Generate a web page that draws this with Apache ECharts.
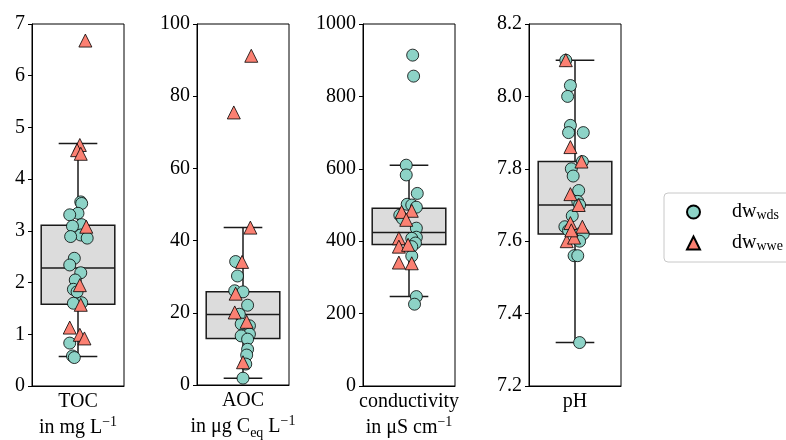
<!DOCTYPE html>
<html>
<head>
<meta charset="UTF-8">
<title>Water quality boxplots</title>
<script src="https://cdn.jsdelivr.net/npm/echarts@6/dist/echarts.min.js"></script>
<style>
  html, body { margin: 0; padding: 0; background: #fff; }
  #chart { width: 786px; height: 440px; }
</style>
</head>
<body>
<div id="chart"></div>
<script>
// ---- data ----
// box statistics: [lower whisker, Q1, median, Q3, upper whisker]
var tocBox = [0.57, 1.58, 2.28, 3.11, 4.69];
var aocBox = [1.9, 12.9, 19.5, 25.8, 43.6];
var condBox = [247, 391, 424, 491, 610];
var phBox = [7.32, 7.62, 7.70, 7.82, 8.10];

// dw_wds samples (values) and strip jitter (fraction of category band)
var tocWds = [3.56, 3.53, 3.34, 3.31, 3.12, 3.09, 2.92, 2.89, 2.86, 2.47, 2.34, 2.19, 2.05, 1.87, 1.82, 1.61, 1.60, 0.83, 0.58, 0.55];
var tocWdsJit = [0.03, 0.04, 0.0, -0.09, 0.04, -0.06, 0.03, -0.08, 0.10, -0.04, -0.09, 0.03, -0.03, -0.05, -0.01, 0.04, -0.05, -0.09, -0.06, -0.04];
var tocWwe = [6.68, 4.66, 4.56, 4.49, 3.08, 1.95, 1.57, 1.13, 0.99, 0.92];
var tocWweJit = [0.08, 0.02, -0.01, 0.03, 0.09, 0.02, 0.03, -0.09, 0.02, 0.07];

var aocWds = [34.2, 30.2, 26.1, 25.8, 22.1, 19.6, 16.9, 16.4, 14.1, 13.6, 12.7, 9.9, 8.3, 5.8, 1.9];
var aocWdsJit = [-0.08, -0.06, -0.09, 0.0, 0.05, -0.04, -0.02, 0.07, 0.07, -0.02, 0.05, 0.05, 0.04, 0.03, 0.0];
var aocWwe = [91.2, 75.5, 43.6, 34.1, 25.3, 20.1, 17.5, 6.3];
var aocWweJit = [0.09, -0.10, 0.08, -0.01, -0.08, -0.09, 0.04, 0.0];

var condWds = [914, 856, 610, 583, 532, 502, 500, 494, 472, 462, 436, 411, 408, 395, 385, 359, 247, 226];
var condWdsJit = [0.04, 0.05, -0.03, -0.03, 0.09, -0.02, 0.03, 0.08, -0.10, -0.07, 0.08, 0.08, 0.03, 0.07, 0.03, 0.03, 0.08, 0.06];
var condWwe = [481, 484, 459, 408, 385, 390, 341, 339];
var condWweJit = [-0.08, 0.03, -0.03, -0.11, -0.11, -0.01, -0.11, 0.03];

var phWds = [8.10, 8.03, 8.00, 7.92, 7.90, 7.90, 7.82, 7.80, 7.78, 7.74, 7.71, 7.70, 7.67, 7.64, 7.63, 7.62, 7.62, 7.60, 7.56, 7.56, 7.32];
var phWdsJit = [-0.10, -0.05, -0.08, -0.05, -0.07, 0.09, 0.08, -0.04, -0.02, 0.04, 0.03, 0.05, -0.03, -0.11, -0.07, 0.05, 0.09, 0.05, -0.01, 0.03, 0.05];
var phWwe = [8.10, 7.86, 7.82, 7.73, 7.70, 7.65, 7.64, 7.60, 7.61, 7.63];
var phWweJit = [-0.10, -0.05, 0.07, -0.05, 0.04, -0.05, 0.08, -0.09, -0.01, -0.04];

// axis ranges and labels
var labels = [
  '{a|TOC}\n{a|in mg L}{sup|\u22121}',
  '{a|AOC}\n{a|in \u03bcg C}{sub|eq}{a| L}{sup|\u22121}',
  '{a|conductivity}\n{a|in \u03bcS cm}{sup|\u22121}',
  '{a|pH}'
];
var yMin = [0, 0, 0, 7.2];
var yMax = [7, 100, 1000, 8.2];
var yStep = [1, 20, 200, 0.2];
var yDecimals = [0, 0, 0, 1];

var boxes = [tocBox, aocBox, condBox, phBox];
var wds = [[tocWds, tocWdsJit], [aocWds, aocWdsJit], [condWds, condWdsJit], [phWds, phWdsJit]];
var wwe = [[tocWwe, tocWweJit], [aocWwe, aocWweJit], [condWwe, condWweJit], [phWwe, phWweJit]];

// ---- chart ----
var FONT = 'Liberation Serif';
var lefts = [32, 197, 363, 529];
var LINE = '#1a1a1a';

function pairs(d) {
  return d[0].map(function (v, k) { return [d[1][k], v]; });
}

function renderBox(params, api) {
  var p = [1, 2, 3, 4, 5].map(function (d) { return api.coord([api.value(0), api.value(d)]); });
  var x = p[0][0];
  var bw = api.size([0.8, 0])[0];
  var cw = api.size([0.42, 0])[0];
  var st = { stroke: LINE, lineWidth: 1.5, fill: null };
  return {
    type: 'group',
    children: [
      { type: 'line', shape: { x1: x, y1: p[0][1], x2: x, y2: p[1][1] }, style: st },
      { type: 'line', shape: { x1: x, y1: p[3][1], x2: x, y2: p[4][1] }, style: st },
      { type: 'line', shape: { x1: x - cw / 2, y1: p[0][1], x2: x + cw / 2, y2: p[0][1] }, style: st },
      { type: 'line', shape: { x1: x - cw / 2, y1: p[4][1], x2: x + cw / 2, y2: p[4][1] }, style: st },
      { type: 'rect', shape: { x: x - bw / 2, y: p[3][1], width: bw, height: p[1][1] - p[3][1] },
        style: { fill: '#dcdcdc', stroke: LINE, lineWidth: 1.5 } },
      { type: 'line', shape: { x1: x - bw / 2, y1: p[2][1], x2: x + bw / 2, y2: p[2][1] }, style: st }
    ]
  };
}

var richX = {
  a: { fontFamily: FONT, fontSize: 20, color: '#000', lineHeight: 26 },
  sup: { fontFamily: FONT, fontSize: 14, color: '#000', lineHeight: 8, verticalAlign: 'top' },
  sub: { fontFamily: FONT, fontSize: 14, color: '#000', lineHeight: 14, verticalAlign: 'bottom' }
};

var grids = [], xAxes = [], yAxes = [], series = [];
for (var i = 0; i < 4; i++) {
  grids.push({ left: lefts[i], top: 24, width: 92, height: 362, show: true,
    borderColor: '#000', borderWidth: 1, backgroundColor: 'transparent' });
  xAxes.push({
    gridIndex: i, type: 'category', data: [labels[i]],
    axisLine: { lineStyle: { color: '#000', width: 1 } },
    axisTick: { alignWithLabel: true, length: 5, lineStyle: { color: '#000' } },
    axisLabel: { margin: 3, interval: 0, formatter: function (v) { return v; }, rich: richX }
  });
  xAxes.push({ gridIndex: i, type: 'value', min: -0.5, max: 0.5, show: false });
  (function (dec) {
    yAxes.push({
      gridIndex: i, type: 'value', min: yMin[i], max: yMax[i], interval: yStep[i],
      splitLine: { show: false },
      axisLine: { show: true, onZero: false, lineStyle: { color: '#000', width: 1 } },
      axisTick: { show: true, length: 4, lineStyle: { color: '#000' } },
      axisLabel: { margin: 7, color: '#000', fontFamily: FONT, fontSize: 20,
        formatter: function (v) { return v.toFixed(dec); } }
    });
  })(yDecimals[i]);

  series.push({
    type: 'custom', xAxisIndex: 2 * i + 1, yAxisIndex: i, z: 1,
    renderItem: renderBox, encode: { x: 0, y: [1, 2, 3, 4, 5] },
    data: [[0].concat(boxes[i])], silent: true
  });
  series.push({
    name: 'wds', type: 'scatter', xAxisIndex: 2 * i + 1, yAxisIndex: i, z: 3,
    symbol: 'circle', symbolSize: 12,
    itemStyle: { color: '#8dd3c7', borderColor: '#000', borderWidth: 0.8, opacity: 1 },
    data: pairs(wds[i])
  });
  series.push({
    name: 'wwe', type: 'scatter', xAxisIndex: 2 * i + 1, yAxisIndex: i, z: 4,
    symbol: 'triangle', symbolSize: 13,
    itemStyle: { color: '#fb8072', borderColor: '#000', borderWidth: 0.8, opacity: 1 },
    data: pairs(wwe[i])
  });
}

var chart = echarts.init(document.getElementById('chart'), null, { renderer: 'canvas' });
chart.setOption({
  animation: false,
  backgroundColor: '#fff',
  grid: grids,
  xAxis: xAxes,
  yAxis: yAxes,
  legend: {
    data: [{ name: 'wds', icon: 'circle' }, { name: 'wwe', icon: 'triangle' }],
    orient: 'vertical', left: 664, top: 193,
    itemWidth: 13, itemHeight: 13, itemGap: 11,
    padding: [9, 20, 9, 22],
    borderColor: '#c8c8c8', borderWidth: 1, borderRadius: 4,
    formatter: function (n) { return '{a|dw}{s|' + n + '}'; },
    textStyle: {
      rich: {
        a: { fontFamily: FONT, fontSize: 20, color: '#000', padding: [0, 0, 0, 27] },
        s: { fontFamily: FONT, fontSize: 14, color: '#000', verticalAlign: 'bottom', padding: [6, 0, 0, 0] }
      }
    }
  },
  series: series
});
</script>
</body>
</html>
